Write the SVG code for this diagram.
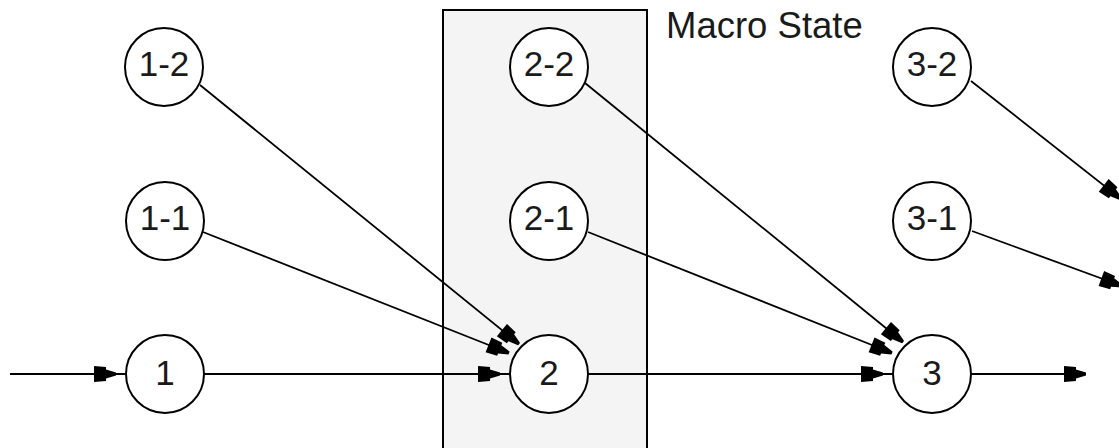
<svg xmlns="http://www.w3.org/2000/svg" width="1119" height="448" viewBox="0 0 1119 448">
<style>
.node circle{fill:#fff;stroke:#000;stroke-width:2}
.node text{font-family:"Liberation Sans",Arial,sans-serif;font-size:35px;fill:#1a1a1a;text-anchor:middle}
.conn path{fill:none;stroke:#000;stroke-width:1.8}
.title{font-family:"Liberation Sans",Arial,sans-serif;font-size:36.5px;fill:#1a1a1a}
</style>
<defs>
<marker id="arr" markerUnits="userSpaceOnUse" orient="auto" refX="22" refY="0" markerWidth="30" markerHeight="20" overflow="visible">
<path d="M0,-8 L12,-7 L12,-4.5 L22,-1.5 L22,1.5 L12,4.5 L12,7 L0,8 Z" fill="#000"/>
</marker>
<marker id="arrgap" markerUnits="userSpaceOnUse" orient="auto" refX="32" refY="0" markerWidth="40" markerHeight="20" overflow="visible">
<path d="M0,-8 L12,-7 L12,-4.5 L22,-1.5 L22,1.5 L12,4.5 L12,7 L0,8 Z" fill="#000"/>
</marker>
</defs>
<rect id="macro-state" x="443" y="10" width="204" height="450" fill="#f4f4f4" stroke="#000" stroke-width="2"/>
<text class="title" x="666" y="38">Macro State</text>
<g class="conn" id="connectors">
<path d="M10,374 L126,374" marker-end="url(#arrgap)"/>
<path d="M204,374 L510,374" marker-end="url(#arrgap)"/>
<path d="M588,374 L893,374" marker-end="url(#arrgap)"/>
<path d="M971,374 L1086,374" marker-end="url(#arr)"/>
<path d="M200,85 L519,344" marker-end="url(#arr)"/>
<path d="M203,232 L509,353" marker-end="url(#arr)"/>
<path d="M585,83 L903,342" marker-end="url(#arr)"/>
<path d="M588,232 L892,353" marker-end="url(#arr)"/>
<path d="M971,81 L1121,199" marker-end="url(#arr)"/>
<path d="M972,231 L1122,286" marker-end="url(#arr)"/>
</g>
<g class="node" id="n1-2"><circle cx="164" cy="67" r="39"/><text x="164" y="76">1-2</text></g>
<g class="node" id="n1-1"><circle cx="165" cy="221" r="39"/><text x="165" y="230">1-1</text></g>
<g class="node" id="n1"><circle cx="165" cy="374" r="39"/><text x="165" y="385">1</text></g>
<g class="node" id="n2-2"><circle cx="549" cy="67" r="39"/><text x="549" y="76">2-2</text></g>
<g class="node" id="n2-1"><circle cx="549" cy="221" r="39"/><text x="549" y="230">2-1</text></g>
<g class="node" id="n2"><circle cx="549" cy="374" r="39"/><text x="549" y="385">2</text></g>
<g class="node" id="n3-2"><circle cx="932" cy="67" r="39"/><text x="932" y="76">3-2</text></g>
<g class="node" id="n3-1"><circle cx="932" cy="221" r="39"/><text x="932" y="230">3-1</text></g>
<g class="node" id="n3"><circle cx="932" cy="374" r="39"/><text x="932" y="385">3</text></g>
</svg>
